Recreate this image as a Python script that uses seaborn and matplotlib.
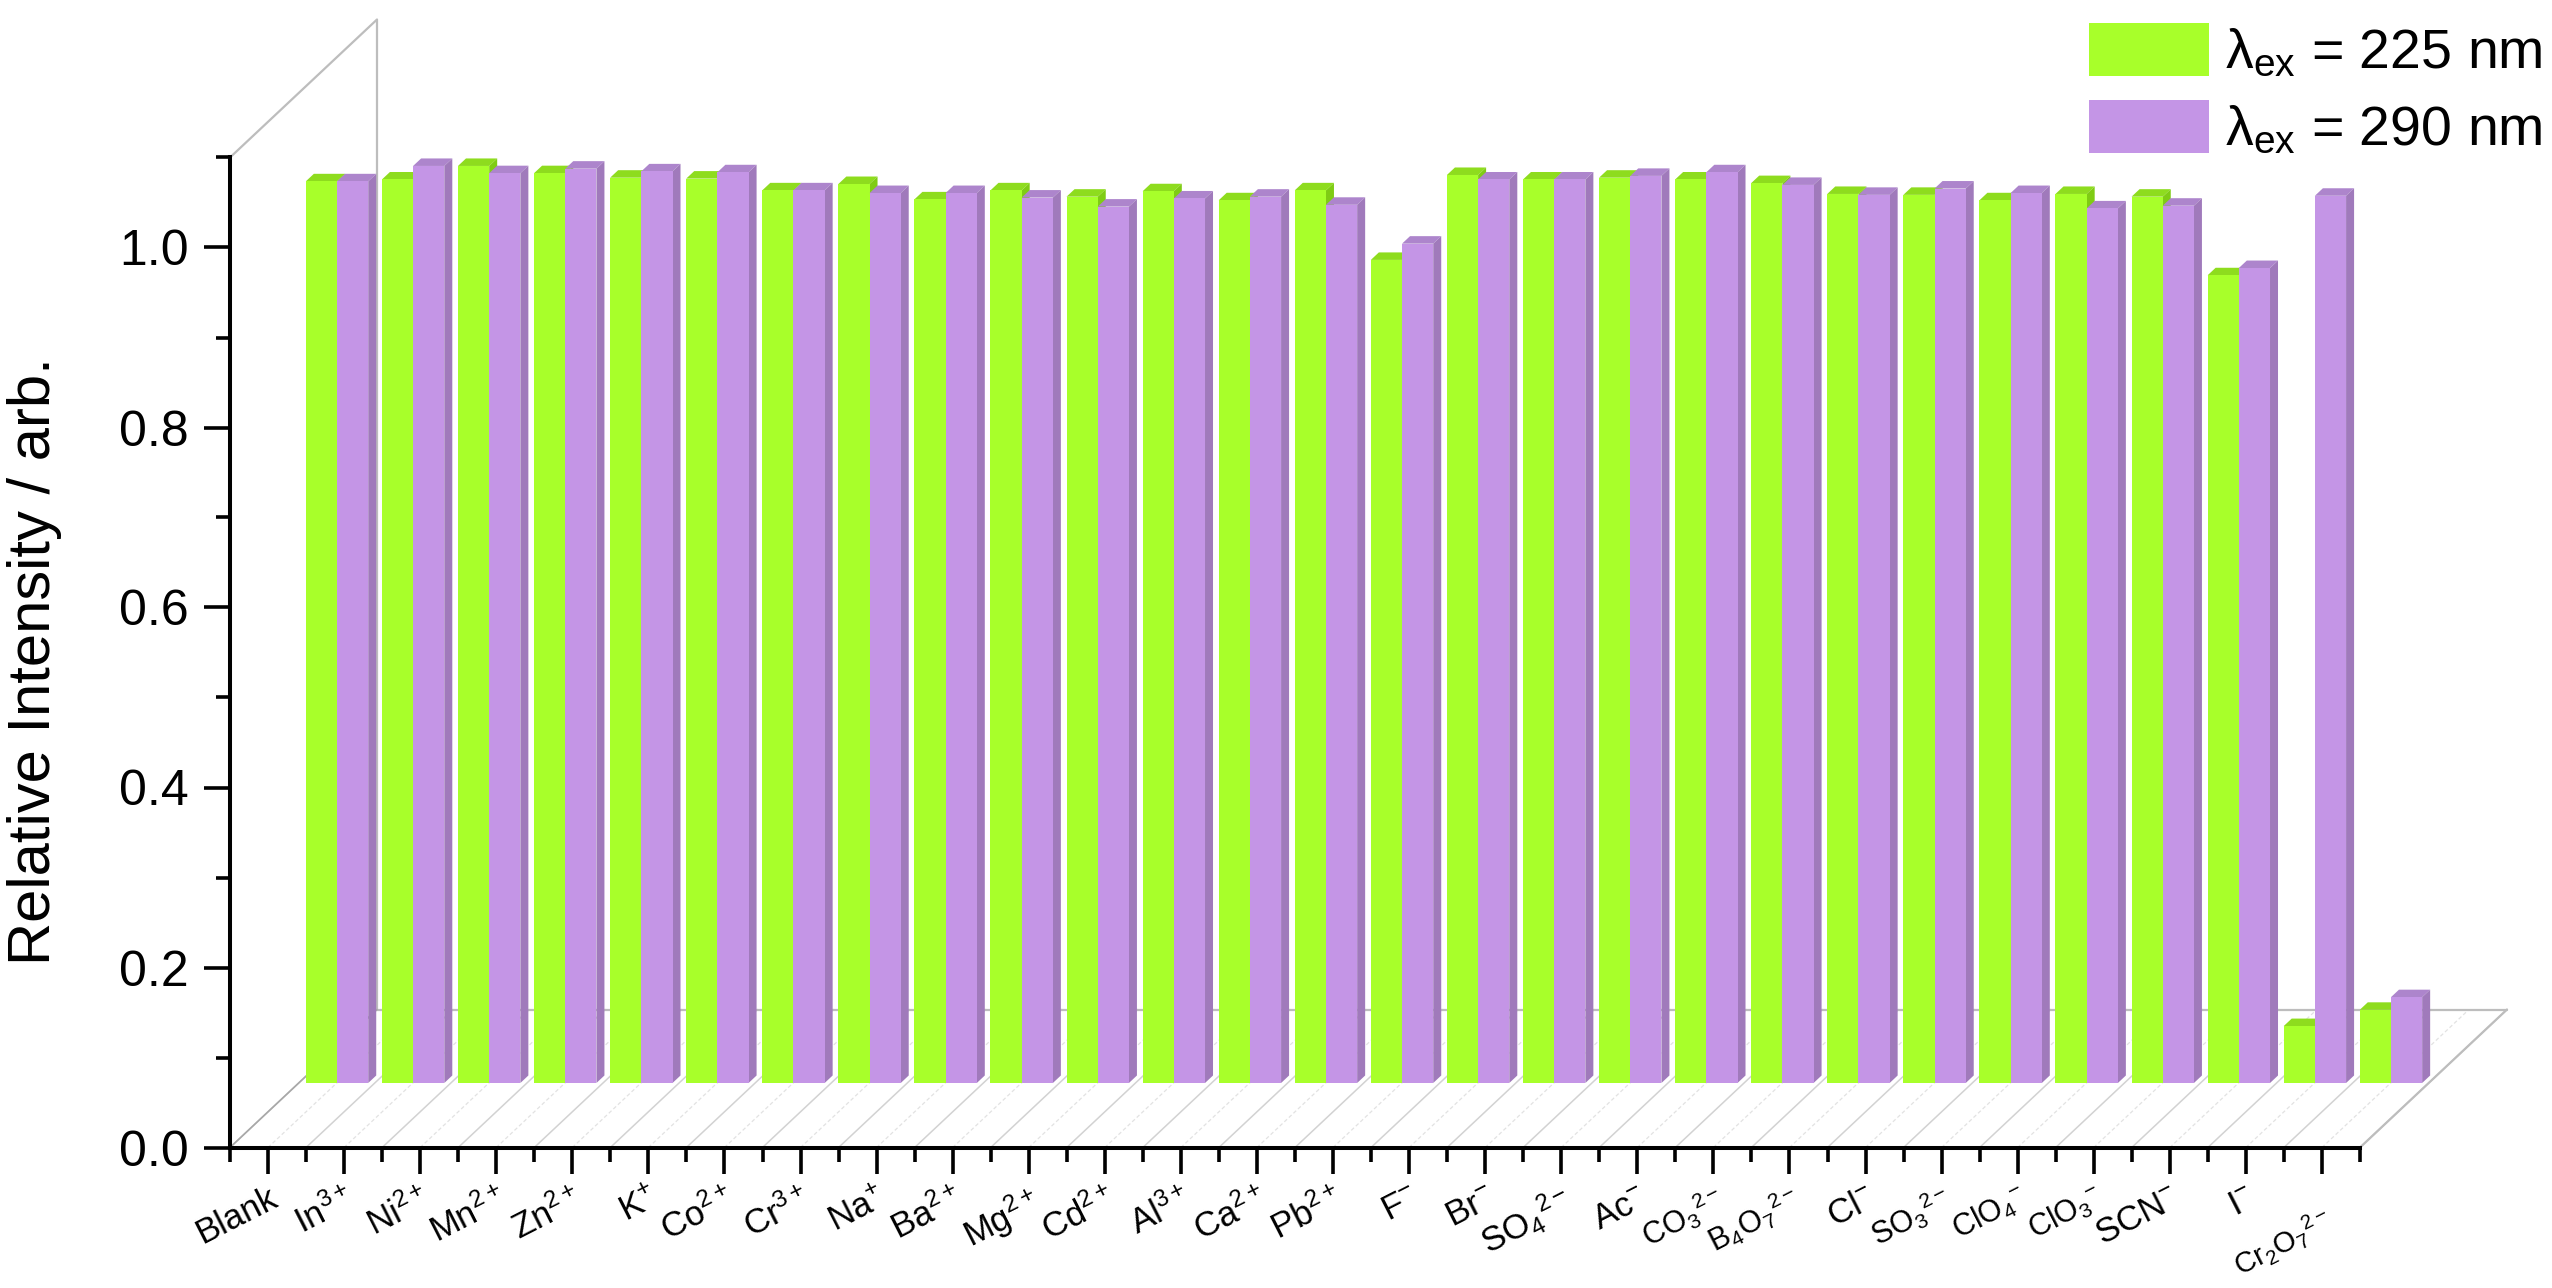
import matplotlib
matplotlib.use("Agg")
import matplotlib.pyplot as plt
from matplotlib.patches import Polygon, Patch
from matplotlib.ticker import MultipleLocator
import pandas as pd
import seaborn as sns

ions = [r"Blank", r"In$^{3+}$", r"Ni$^{2+}$", r"Mn$^{2+}$", r"Zn$^{2+}$", r"K$^{+}$", r"Co$^{2+}$",
        r"Cr$^{3+}$", r"Na$^{+}$", r"Ba$^{2+}$", r"Mg$^{2+}$", r"Cd$^{2+}$", r"Al$^{3+}$", r"Ca$^{2+}$",
        r"Pb$^{2+}$", r"F$^{-}$", r"Br$^{-}$", r"SO$_{4}$$^{2-}$", r"Ac$^{-}$", r"CO$_{3}$$^{2-}$",
        r"B$_{4}$O$_{7}$$^{2-}$", r"Cl$^{-}$", r"SO$_{3}$$^{2-}$", r"ClO$_{4}$$^{-}$", r"ClO$_{3}$$^{-}$",
        r"SCN$^{-}$", r"I$^{-}$", r"Cr$_{2}$O$_{7}$$^{2-}$"]
ex225 = [.998, 1.000, 1.015, 1.007, 1.002, 1.001, .988, .995, .978, .988, .981, .987, .977, .988,
         .911, 1.005, 1.000, 1.002, 1.000, .996, .984, .983, .977, .984, .981, .894, .063, .081]
ex290 = [.998, 1.015, 1.007, 1.012, 1.009, 1.008, .988, .985, .985, .980, .970, .979, .981, .972,
         .929, 1.000, 1.000, 1.004, 1.008, .994, .983, .990, .985, .968, .971, .902, .982, .095]
series_names = [r"$\lambda_{ex}$ = 225 nm", r"$\lambda_{ex}$ = 290 nm"]
y_label = "Relative Intensity / arb."

W, H = 2552, 1288
GREEN, PURPLE = "#A8FF2A", "#C495E6"
SHADE = {GREEN: ("#8EDC1E", "#7FCC14"), PURPLE: ("#AD85CC", "#A07ABB")}

sns.set_theme(style="white")
plt.rcParams["font.family"] = ["Liberation Sans", "DejaVu Sans"]
plt.rcParams["mathtext.fontset"] = "custom"
plt.rcParams["mathtext.rm"] = "Liberation Sans"
plt.rcParams["mathtext.it"] = "Liberation Sans"
plt.rcParams["mathtext.default"] = "regular"

fig = plt.figure(figsize=(W / 100, H / 100), dpi=100, facecolor="white")


def px_axes(left, right, bottom, top):
    return fig.add_axes([left / W, 1 - bottom / H, (right - left) / W, (bottom - top) / H])


# visual frame axes carrying the ticks
ax = px_axes(230, 2360, 1147.5, 157.5)
ax.set_xlim(-0.5, 27.5)
ax.set_ylim(0, 1.1)
ax.patch.set_alpha(0)
for s in ("top", "right"):
    ax.spines[s].set_visible(False)
for s in ("left", "bottom"):
    ax.spines[s].set_linewidth(2.9)
    ax.spines[s].set_color("black")

ax.yaxis.set_major_locator(MultipleLocator(0.2))
ax.yaxis.set_minor_locator(MultipleLocator(0.1))
ax.set_xticks(range(len(ions)))
ax.set_xticks([i - 0.5 for i in range(len(ions) + 1)], minor=True)
ax.set_xticklabels(ions)
ax.tick_params(which="major", length=18.7, width=2.6, color="black", left=True, bottom=True)
ax.tick_params(which="minor", length=10, width=2.6, color="black", left=True, bottom=True)
ax.tick_params(axis="y", which="major", labelsize=36, pad=11, labelcolor="black")
ax.tick_params(axis="x", which="major", pad=6, labelcolor="black")
small = {19, 20, 22, 23, 24}
for i, t in enumerate(ax.get_xticklabels()):
    t.set_rotation(27)
    t.set_ha("right")
    t.set_rotation_mode("anchor")
    t.set_va("top")
    t.set_fontsize(22 if i in small else 25)
ax.get_xticklabels()[-1].set_fontsize(21)
ax.get_xticklabels()[-1].set_y(-0.022)
ax.set_ylabel(y_label, fontsize=43, color="black")
ax.yaxis.set_label_coords((62 - 230) / 2130, 0.4916)

# 3-D frame: floor and back walls
DX = 147 / (2130 / 28)
DY = 138 / 900
frame = "#BDBDBD"
for x in range(29):
    ax.plot([x - 0.5, x - 0.5 + DX], [0, DY], color="#D2D2D2", lw=1.1, zorder=1, clip_on=False)
for x in range(28):
    ax.plot([x, x + DX], [0, DY], color="#E2E2E2", lw=0.9, ls=(0, (3, 2)), zorder=1, clip_on=False)
ax.plot([-0.5 + DX, 27.5 + DX], [DY, DY], color=frame, lw=1.6, zorder=1, clip_on=False)
ax.plot([-0.5 + DX, -0.5 + DX], [DY, 1.1 + DY], color=frame, lw=1.6, zorder=1, clip_on=False)
ax.plot([-0.5, -0.5 + DX], [1.1, 1.1 + DY], color=frame, lw=1.6, zorder=1, clip_on=False)
ax.plot([27.5, 27.5 + DX], [0, DY], color=frame, lw=1.6, zorder=1, clip_on=False)
ax.plot([-0.5, -0.5 + DX], [0, DY], color="#A8A8A8", lw=1.2, zorder=1, clip_on=False)

# bars, drawn in an axes shifted into the depth of the floor
ax_b = px_axes(299, 2429, 1083, 1083 - 1.1 * 903.5)
ax_b.patch.set_alpha(0)
df = pd.DataFrame({
    "ion": ions * 2,
    "intensity": ex225 + ex290,
    "excitation": [series_names[0]] * len(ions) + [series_names[1]] * len(ions),
})
sns.barplot(data=df, x="ion", y="intensity", hue="excitation", order=ions, hue_order=series_names,
            palette=[GREEN, PURPLE], width=0.82, gap=0, saturation=1, dodge=True,
            legend=False, errorbar=None, ax=ax_b, linewidth=0)
ax_b.set_xlim(-0.5, 27.5)
ax_b.set_ylim(0, 1.1)
ax_b.axis("off")

dx = 8 / (2130 / 28)
dy = 7.5 / 903.5
for k, (container, col) in enumerate(zip(ax_b.containers, (GREEN, PURPLE))):
    top_c, side_c = SHADE[col]
    for bar in container:
        x0, x1, h = bar.get_x(), bar.get_x() + bar.get_width(), bar.get_height()
        bar.set_zorder(3.1 + k)
        ax_b.add_patch(Polygon([(x0, h), (x1, h), (x1 + dx, h + dy), (x0 + dx, h + dy)],
                               fc=top_c, ec="none", zorder=3 + k, clip_on=False))
        ax_b.add_patch(Polygon([(x1, 0), (x1 + dx, dy), (x1 + dx, h + dy), (x1, h)],
                               fc=side_c, ec="none", zorder=3 + k, clip_on=False))

fs = 40
handles = [Patch(fc=GREEN, ec="none"), Patch(fc=PURPLE, ec="none")]
fig.legend(handles, series_names, loc="upper left", bbox_to_anchor=(2089 / W, 1 - 23 / H),
           frameon=False, fontsize=fs, handlelength=120 / 55.6, handleheight=60 / 55.6,
           borderpad=0, borderaxespad=0, labelspacing=0.36, handletextpad=0.29, labelcolor="black")

fig.savefig("out.png", dpi=100, facecolor="white")
